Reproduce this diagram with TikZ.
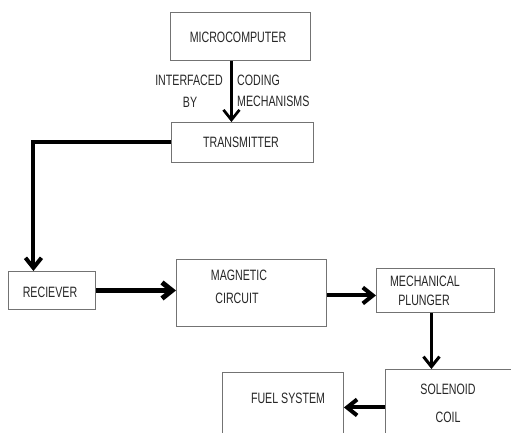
\documentclass[tikz,border=0pt]{standalone}
\usepackage{fontspec}
\setmainfont[FakeStretch=0.71]{Liberation Sans}
\usetikzlibrary{arrows.meta}
\tikzset{
  box/.style={draw=black!55, line width=0.9pt, inner sep=0pt, anchor=north west, fill=white},
  lbl/.style={font=\fontsize{15}{17}\selectfont, inner sep=0pt, text=black!85},
  conn/.style={draw=black, -{Straight Barb[length=10pt,width=16pt]}},
  conn0/.style={draw=black}
}
\begin{document}
\begin{tikzpicture}[x=1pt,y=-1pt]
\useasboundingbox (0,0) rectangle (511,432);
\clip (0,0) rectangle (511,432);
% boxes
\node[box, minimum width=140pt, minimum height=48pt] (micro) at (170,12) {};
\node[box, minimum width=142pt, minimum height=40pt] (trans) at (171,122) {};
\node[box, minimum width=87pt, minimum height=38pt] (recv) at (8,271) {};
\node[box, minimum width=150pt, minimum height=67pt] (mag) at (176,259) {};
\node[box, minimum width=118pt, minimum height=44pt] (mech) at (376,268) {};
\node[box, minimum width=160pt, minimum height=100pt] (sol) at (385,369) {};
\node[box, minimum width=121pt, minimum height=100pt] (fuel) at (222,372) {};
% texts
\node[lbl] (tmicro) at (238,37) {MICROCOMPUTER};
\node[lbl] (ttrans) at (241,142) {TRANSMITTER};
\node[lbl] (trecv) at (50,292) {RECIEVER};
\node[lbl] (tmag1) at (239,275) {MAGNETIC};
\node[lbl] (tmag2) at (237,298) {CIRCUIT};
\node[lbl] (tmech1) at (425,281) {MECHANICAL};
\node[lbl] (tmech2) at (424,300) {PLUNGER};
\node[lbl] (tsol1) at (448,389) {SOLENOID};
\node[lbl] (tsol2) at (448,417) {COIL};
\node[lbl] (tfuel) at (288,398) {FUEL SYSTEM};
\node[lbl] (tint) at (189,80) {INTERFACED};
\node[lbl] (tby) at (190,102) {BY};
\node[lbl, anchor=west] (tcod) at (237,80) {CODING};
\node[lbl, anchor=west] (tmechs) at (237,101) {MECHANISMS};
% connectors
\draw[conn, line width=2.7pt] ([xshift=-9pt]micro.south) -- ([xshift=-9pt]micro.south |- trans.north);
\draw[conn, line width=4pt] (trans.west) -| ([xshift=-18.5pt]recv.north);
\draw[conn, line width=5pt] ([yshift=0pt]recv.east) -- ([yshift=0pt]recv.east -| mag.west);
\draw[conn, line width=4pt] ([yshift=-2.5pt]mag.east) -- ([yshift=-2.5pt]mag.east -| mech.west);
\draw[conn, line width=3pt] ([xshift=-4pt]mech.south) -- ([xshift=-4pt]mech.south |- sol.north);
\draw[conn, line width=4pt] ([yshift=12pt]sol.west) -- ([yshift=12pt]sol.west -| fuel.east);
\end{tikzpicture}
\end{document}
